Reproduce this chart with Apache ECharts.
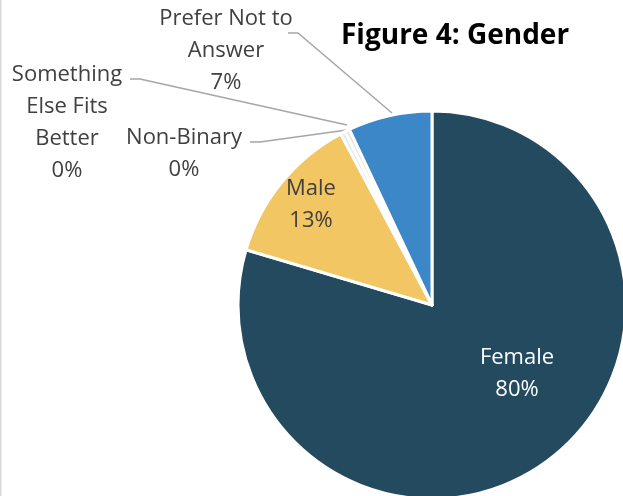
<!DOCTYPE html>
<html>
<head>
<meta charset="utf-8">
<script src="https://cdn.jsdelivr.net/npm/echarts@6/dist/echarts.min.js"></script>
<style>
  html, body { margin: 0; padding: 0; background: #fff; }
  #chart { width: 623px; height: 496px; }
</style>
</head>
<body>
<div id="chart"></div>
<script>
    // categories, clockwise from 12 o'clock
    var categories = ['Female', 'Male', 'Non-Binary', 'Something\nElse Fits\nBetter', 'Prefer Not to\nAnswer'];
    var values = [79.6, 12.6, 0.4, 0.4, 7.0];
    var colors = ['#244a5f', '#f2c662', '#e6e6e6', '#e6e6e6', '#3b87c8'];
    var labelColors = ['#ffffff', '#404040', '#404040', '#404040', '#404040'];

    // where each label sits, and its leader line (slice end -> elbow -> label)
    var labelPos = [[517, 374], [311, 205], [184, 154], [67, 123], [226, 51]];
    var linePts = [
        null,
        null,
        [[347, 130], [260, 142], [250, 142]],
        [[347, 125], [140, 79], [130, 79]],
        [[392, 113], [298, 33], [288, 33]]
    ];

    var myChart = echarts.init(document.getElementById('chart'));
    var pieData = categories.map(function (name, i) {
        return {
            name: name,
            value: values[i],
            itemStyle: { color: colors[i] },
            label: { color: labelColors[i] },
            labelLine: { show: linePts[i] !== null }
        };
    });

    var option = {
        animation: false,
        title: {
            text: 'Figure 4: Gender',
            left: 341,
            top: 22,
            padding: 0,
            textStyle: {
                fontFamily: 'Open Sans',
                fontWeight: 'bold',
                fontSize: 28,
                color: '#000'
            }
        },
        graphic: [{
            type: 'rect',
            shape: { x: 0, y: 0, width: 1.5, height: 496 },
            style: { fill: '#d9d9d9' }
        }],
        series: [{
            type: 'pie',
            center: [432, 305],
            radius: 194,
            startAngle: 90,
            clockwise: true,
            avoidLabelOverlap: false,
            emphasis: { disabled: true },
            itemStyle: { borderColor: '#fff', borderWidth: 3 },
            label: {
                show: true,
                fontFamily: 'Open Sans',
                fontSize: 22,
                lineHeight: 32,
                color: '#404040',
                align: 'center',
                formatter: function (p) {
                    return p.name + '\n' + Math.round(p.percent) + '%';
                }
            },
            labelLine: {
                show: true,
                lineStyle: { color: '#a6a6a6', width: 1.5 }
            },
            labelLayout: function (params) {
                var i = params.dataIndex;
                var res = {
                    x: labelPos[i][0],
                    y: labelPos[i][1],
                    align: 'center',
                    verticalAlign: 'middle'
                };
                if (linePts[i]) res.labelLinePoints = linePts[i];
                return res;
            },
            data: pieData
        }]
    };
    myChart.setOption(option);
</script>
</body>
</html>
